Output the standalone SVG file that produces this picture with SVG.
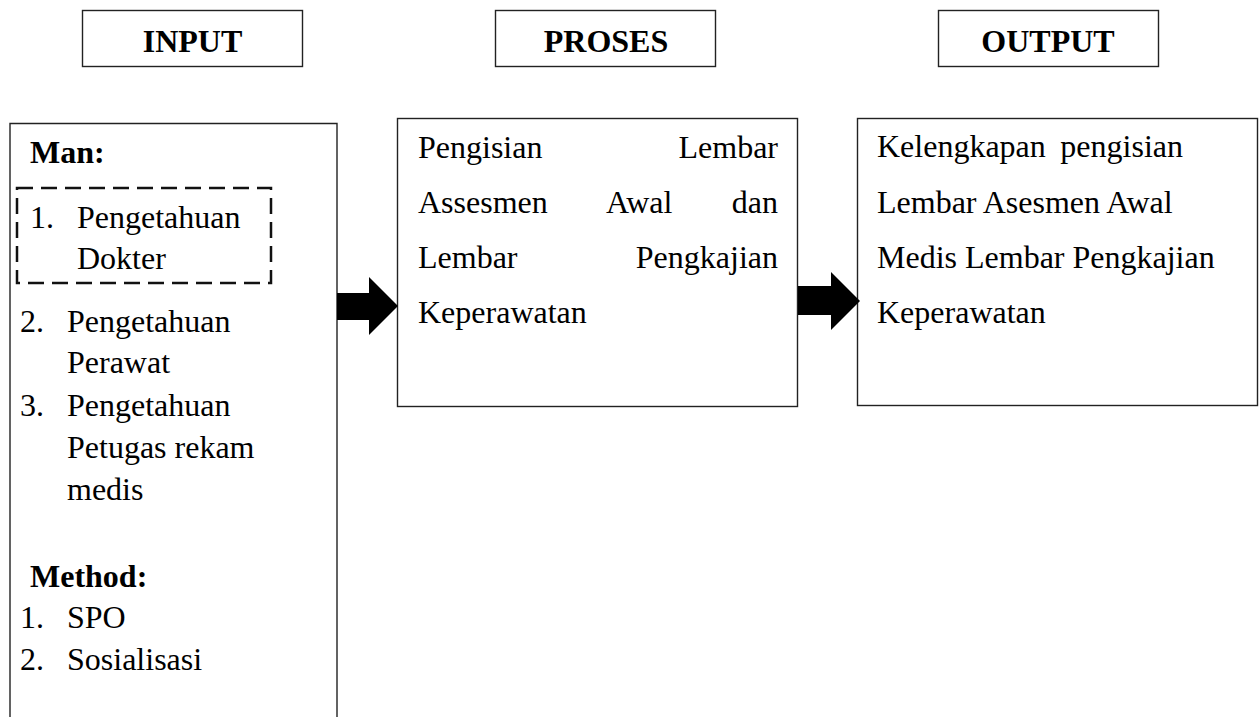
<svg xmlns="http://www.w3.org/2000/svg" width="1260" height="717" viewBox="0 0 1260 717">
<style>
.box{fill:#fff;stroke:#222;stroke-width:1.4}
.dash{fill:none;stroke:#111;stroke-width:2.5;stroke-dasharray:16 8}
.b{font-weight:bold}
.arrow{fill:#000;stroke:none}
</style>
<rect width="1260" height="717" fill="#fff"/>
<g font-family="Liberation Serif, 'Times New Roman', serif" font-size="32" fill="#000">
<g id="input-header">
<rect class="box" x="82.5" y="10.5" width="220" height="56"/>
<text class="b" x="192.5" y="52" text-anchor="middle">INPUT</text>
</g>
<g id="proses-header">
<rect class="box" x="495.5" y="10.5" width="220" height="56"/>
<text class="b" x="606" y="52" text-anchor="middle">PROSES</text>
</g>
<g id="output-header">
<rect class="box" x="938.5" y="10.5" width="220" height="56"/>
<text class="b" x="1048" y="52" text-anchor="middle">OUTPUT</text>
</g>
<g id="input-box">
<path class="box" d="M10,720 V123.5 H337 V720"/>
<text class="b" x="30" y="163">Man:</text>
<rect class="dash" x="17" y="188" width="254" height="95"/>
<text x="30" y="228">1.</text>
<text x="77" y="228">Pengetahuan</text>
<text x="77" y="269">Dokter</text>
<text x="20" y="332">2.</text>
<text x="67" y="332">Pengetahuan</text>
<text x="67" y="373">Perawat</text>
<text x="20" y="416">3.</text>
<text x="67" y="416">Pengetahuan</text>
<text x="67" y="458">Petugas rekam</text>
<text x="67" y="500">medis</text>
<text class="b" x="30" y="587">Method:</text>
<text x="20" y="628">1.</text>
<text x="67" y="628">SPO</text>
<text x="20" y="670">2.</text>
<text x="67" y="670">Sosialisasi</text>
</g>
<g id="proses-box">
<rect class="box" x="397.5" y="118.5" width="400" height="288"/>
<text x="418" y="158">Pengisian</text>
<text x="778" y="158" text-anchor="end">Lembar</text>
<text x="418" y="213">Assesmen</text>
<text x="606" y="213">Awal</text>
<text x="778" y="213" text-anchor="end">dan</text>
<text x="418" y="268">Lembar</text>
<text x="778" y="268" text-anchor="end">Pengkajian</text>
<text x="418" y="323">Keperawatan</text>
</g>
<g id="output-box">
<rect class="box" x="857.5" y="118.5" width="400" height="287"/>
<text x="877" y="157">Kelengkapan</text>
<text x="1183" y="157" text-anchor="end">pengisian</text>
<text x="877" y="213">Lembar Asesmen Awal</text>
<text x="877" y="268">Medis Lembar Pengkajian</text>
<text x="877" y="323">Keperawatan</text>
</g>
</g>
<g id="connectors">
<polygon class="arrow" points="337,293 369,293 369,277 398,306 369,335 369,320 337,320"/>
<polygon class="arrow" points="798,286 831,286 831,272 860,301 831,330 831,315 798,315"/>
</g>
</svg>
